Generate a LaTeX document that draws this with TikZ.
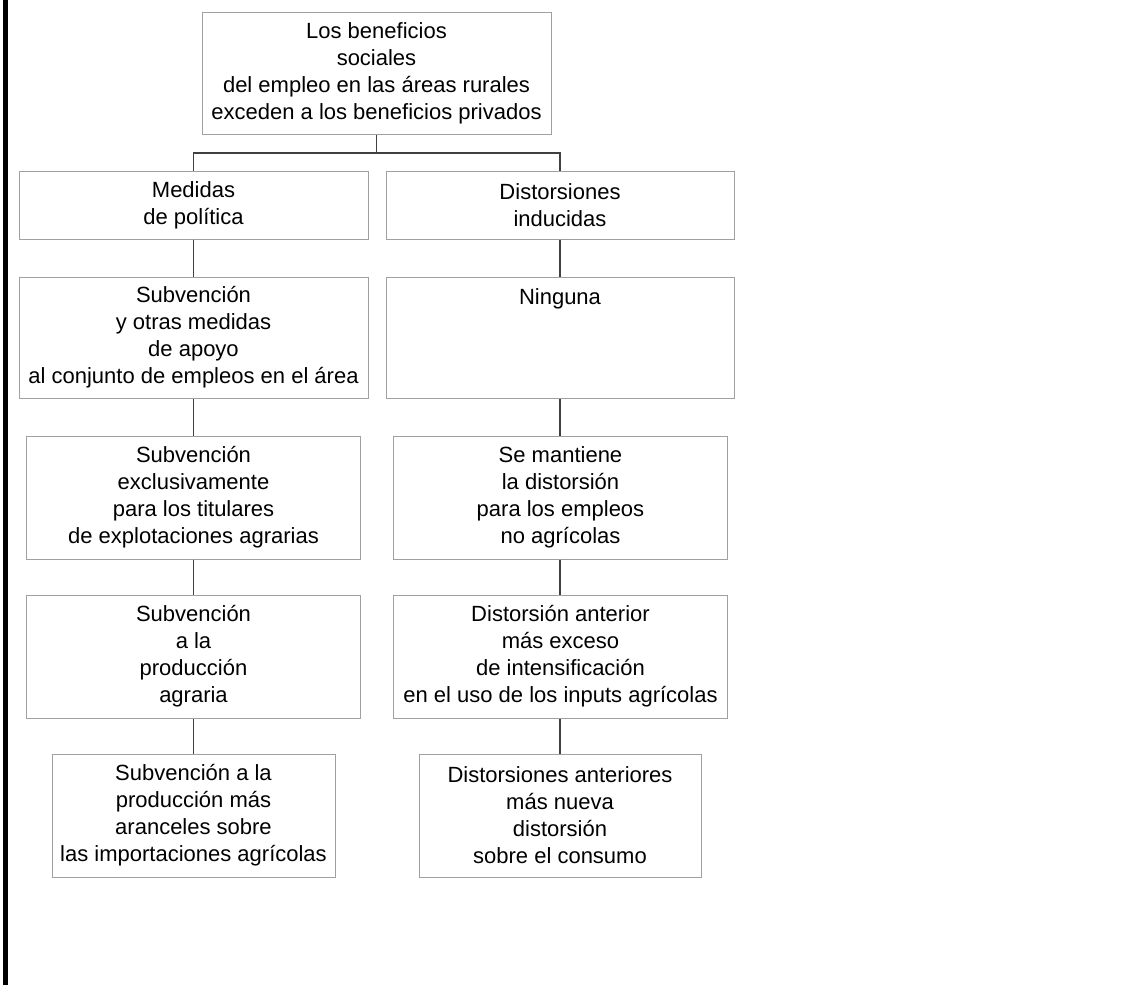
\documentclass[tikz,border=0pt]{standalone}
\usepackage{fontspec}
\setmainfont{Liberation Sans}
\begin{document}
\begin{tikzpicture}[x=1pt,y=-1pt,
  box/.style={draw=boxgray,line width=1pt,inner sep=0pt,align=center,
    font=\fontsize{22}{27}\selectfont},
  link/.style={draw=linkgray,line width=1.5pt}]
\definecolor{boxgray}{HTML}{A0A0A0}
\definecolor{linkgray}{HTML}{404040}
\useasboundingbox (0,0) rectangle (1147,985);
\fill[black] (3,0) rectangle (8,985);
% top
\node[box,minimum width=349pt,minimum height=122pt] (T) at (376.5,73)
  {Los beneficios\\sociales\\del empleo en las áreas rurales\\exceden a los beneficios privados};
% row 1
\node[box,minimum width=349pt,minimum height=68pt] (L1) at (193.5,205) {Medidas\\de política};
\node[box,minimum width=348pt,minimum height=68pt] (R1) at (560,205) {Distorsiones\\inducidas};
% row 2
\node[box,minimum width=349pt,minimum height=121pt] (L2) at (193.5,337.5)
  {Subvención\\y otras medidas\\de apoyo\\al conjunto de empleos en el área};
\node[box,minimum width=348pt,minimum height=121pt] (R2) at (560,337.5)
  {Ninguna\\\phantom{X}\\\phantom{X}\\\phantom{X}};
% row 3
\node[box,minimum width=334pt,minimum height=123pt] (L3) at (193.5,497.5)
  {Subvención\\exclusivamente\\para los titulares\\de explotaciones agrarias};
\node[box,minimum width=334pt,minimum height=123pt] (R3) at (560.5,497.5)
  {Se mantiene\\la distorsión\\para los empleos\\no agrícolas};
% row 4
\node[box,minimum width=334pt,minimum height=123pt] (L4) at (193.5,656.5)
  {Subvención\\a la\\producción\\agraria};
\node[box,minimum width=334pt,minimum height=123pt] (R4) at (560.5,656.5)
  {Distorsión anterior\\más exceso\\de intensificación\\en el uso de los inputs agrícolas};
% row 5
\node[box,minimum width=283pt,minimum height=123pt] (L5) at (193.5,815.5)
  {Subvención a la\\producción más\\aranceles sobre\\las importaciones agrícolas};
\node[box,minimum width=282pt,minimum height=123pt] (R5) at (560,815.5)
  {Distorsiones anteriores\\más nueva\\distorsión\\sobre el consumo};
% connectors
\coordinate (J) at (376.5,153);
\draw[link] (T.south) -- (J);
\draw[link] (J) -| (L1.north);
\draw[link] (J) -| (R1.north);
\draw[link] (L1.south) -- (L2.north);
\draw[link] (L2.south) -- (L3.north);
\draw[link] (L3.south) -- (L4.north);
\draw[link] (L4.south) -- (L5.north);
\draw[link] (R1.south) -- (R2.north);
\draw[link] (R2.south) -- (R3.north -| R2.south);
\draw[link] (R3.south -| R2.south) -- (R4.north -| R2.south);
\draw[link] (R4.south -| R2.south) -- (R5.north);
\end{tikzpicture}
\end{document}
